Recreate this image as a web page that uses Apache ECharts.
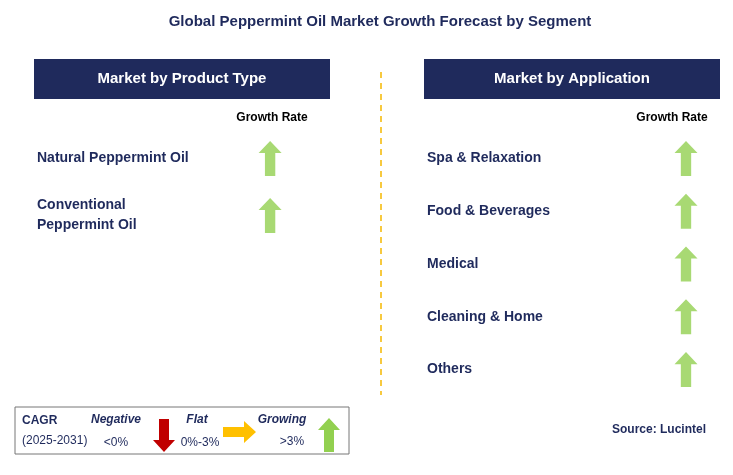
<!DOCTYPE html>
<html><head><meta charset="utf-8">
<script src="https://cdn.jsdelivr.net/npm/echarts@6/dist/echarts.min.js"></script>
<style>html,body{margin:0;padding:0;background:#fff}#c{width:733px;height:475px}</style>
</head><body><div id="c"></div>
<script>
const productTypes = ['Natural Peppermint Oil', 'Conventional\nPeppermint Oil'];
const productGrowth = ['Growing', 'Growing'];
const applications = ['Spa & Relaxation', 'Food & Beverages', 'Medical', 'Cleaning & Home', 'Others'];
const applicationGrowth = ['Growing', 'Growing', 'Growing', 'Growing', 'Growing'];

const UP = 'path://M10,0 L20,11 L14.5,11 L14.5,32 L5.5,32 L5.5,11 L0,11 Z';
const green = '#92d050';
const navy = '#1f2a5c';
const font = 'Liberation Sans, Arial, sans-serif';

function poly(pts, x, y, fill) {
  return {type: 'polygon', x: x, y: y, shape: {points: pts}, style: {fill: fill}};
}
const upPts = [[11,0],[22,12],[16,12],[16,34],[6,34],[6,12],[0,12]];
const downPts = [[6,0],[16,0],[16,21],[22,21],[11,33],[0,21],[6,21]];
const rightPts = [[0,6],[21,6],[21,0],[33,11],[21,22],[21,16],[0,16]];

function panel(idx, cats, growth, gridOpt, xPos) {
  return {
    grid: gridOpt,
    xAxis: {gridIndex: idx, type: 'value', min: 0, max: 1, show: false},
    yAxis: {gridIndex: idx, type: 'category', inverse: true, data: cats,
      axisLine: {show: false}, axisTick: {show: false}, splitLine: {show: false},
      axisLabel: {inside: true, align: 'left', color: navy, fontWeight: 'bold', fontSize: 14, fontFamily: font, lineHeight: 20}},
    series: {type: 'scatter', xAxisIndex: idx, yAxisIndex: idx, symbol: UP, symbolSize: [23, 35],
      itemStyle: {color: green}, silent: true,
      data: cats.map((c, i) => [xPos, c, growth[i]])}
  };
}
const L = panel(0, productTypes, productGrowth, {left: 29, width: 270, top: 130, height: 114}, 0.893);
const R = panel(1, applications, applicationGrowth, {left: 419, width: 300, top: 132, height: 264}, 0.89);

const chart = echarts.init(document.getElementById('c'));
chart.setOption({
  animation: false,
  grid: [L.grid, R.grid], xAxis: [L.xAxis, R.xAxis], yAxis: [L.yAxis, R.yAxis], series: [L.series, R.series],
  graphic: [
    {type: 'text', x: 380, y: 22, style: {text: 'Global Peppermint Oil Market Growth Forecast by Segment', fill: navy, font: 'bold 15px ' + font, align: 'center', verticalAlign: 'middle'}},
    {type: 'rect', shape: {x: 34, y: 59, width: 296, height: 40}, style: {fill: '#1f2a5c'}},
    {type: 'text', x: 182, y: 79, style: {text: 'Market by Product Type', fill: '#fff', font: 'bold 15px ' + font, align: 'center', verticalAlign: 'middle'}},
    {type: 'rect', shape: {x: 424, y: 59, width: 296, height: 40}, style: {fill: '#1f2a5c'}},
    {type: 'text', x: 572, y: 79, style: {text: 'Market by Application', fill: '#fff', font: 'bold 15px ' + font, align: 'center', verticalAlign: 'middle'}},
    {type: 'line', shape: {x1: 381, y1: 72, x2: 381, y2: 395}, style: {stroke: '#f5b800', lineWidth: 1.5, lineDash: [6, 5]}},
    {type: 'text', x: 272, y: 118, style: {text: 'Growth Rate', fill: '#000', font: 'bold 12px ' + font, align: 'center', verticalAlign: 'middle'}},
    {type: 'text', x: 672, y: 118, style: {text: 'Growth Rate', fill: '#000', font: 'bold 12px ' + font, align: 'center', verticalAlign: 'middle'}},
    {type: 'rect', shape: {x: 15, y: 407, width: 334, height: 47}, style: {fill: '#fff', stroke: '#777', lineWidth: 1}},
    {type: 'text', x: 22, y: 421, style: {text: 'CAGR', fill: navy, font: 'bold 12px ' + font, verticalAlign: 'middle'}},
    {type: 'text', x: 22, y: 441, style: {text: '(2025-2031)', fill: navy, font: '12px ' + font, verticalAlign: 'middle'}},
    {type: 'text', x: 116, y: 420, style: {text: 'Negative', fill: navy, font: 'italic bold 12px ' + font, align: 'center', verticalAlign: 'middle'}},
    {type: 'text', x: 116, y: 443, style: {text: '<0%', fill: navy, font: '12px ' + font, align: 'center', verticalAlign: 'middle'}},
    poly(downPts, 153, 419, '#c00000'),
    {type: 'text', x: 197, y: 420, style: {text: 'Flat', fill: navy, font: 'italic bold 12px ' + font, align: 'center', verticalAlign: 'middle'}},
    {type: 'text', x: 200, y: 443, style: {text: '0%-3%', fill: navy, font: '12px ' + font, align: 'center', verticalAlign: 'middle'}},
    poly(rightPts, 223, 421, '#ffc000'),
    {type: 'text', x: 282, y: 420, style: {text: 'Growing', fill: navy, font: 'italic bold 12px ' + font, align: 'center', verticalAlign: 'middle'}},
    {type: 'text', x: 292, y: 442, style: {text: '>3%', fill: navy, font: '12px ' + font, align: 'center', verticalAlign: 'middle'}},
    poly(upPts, 318, 418, green),
    {type: 'text', x: 612, y: 430, style: {text: 'Source: Lucintel', fill: navy, font: 'bold 12px ' + font, verticalAlign: 'middle'}}
  ]
});
</script></body></html>
